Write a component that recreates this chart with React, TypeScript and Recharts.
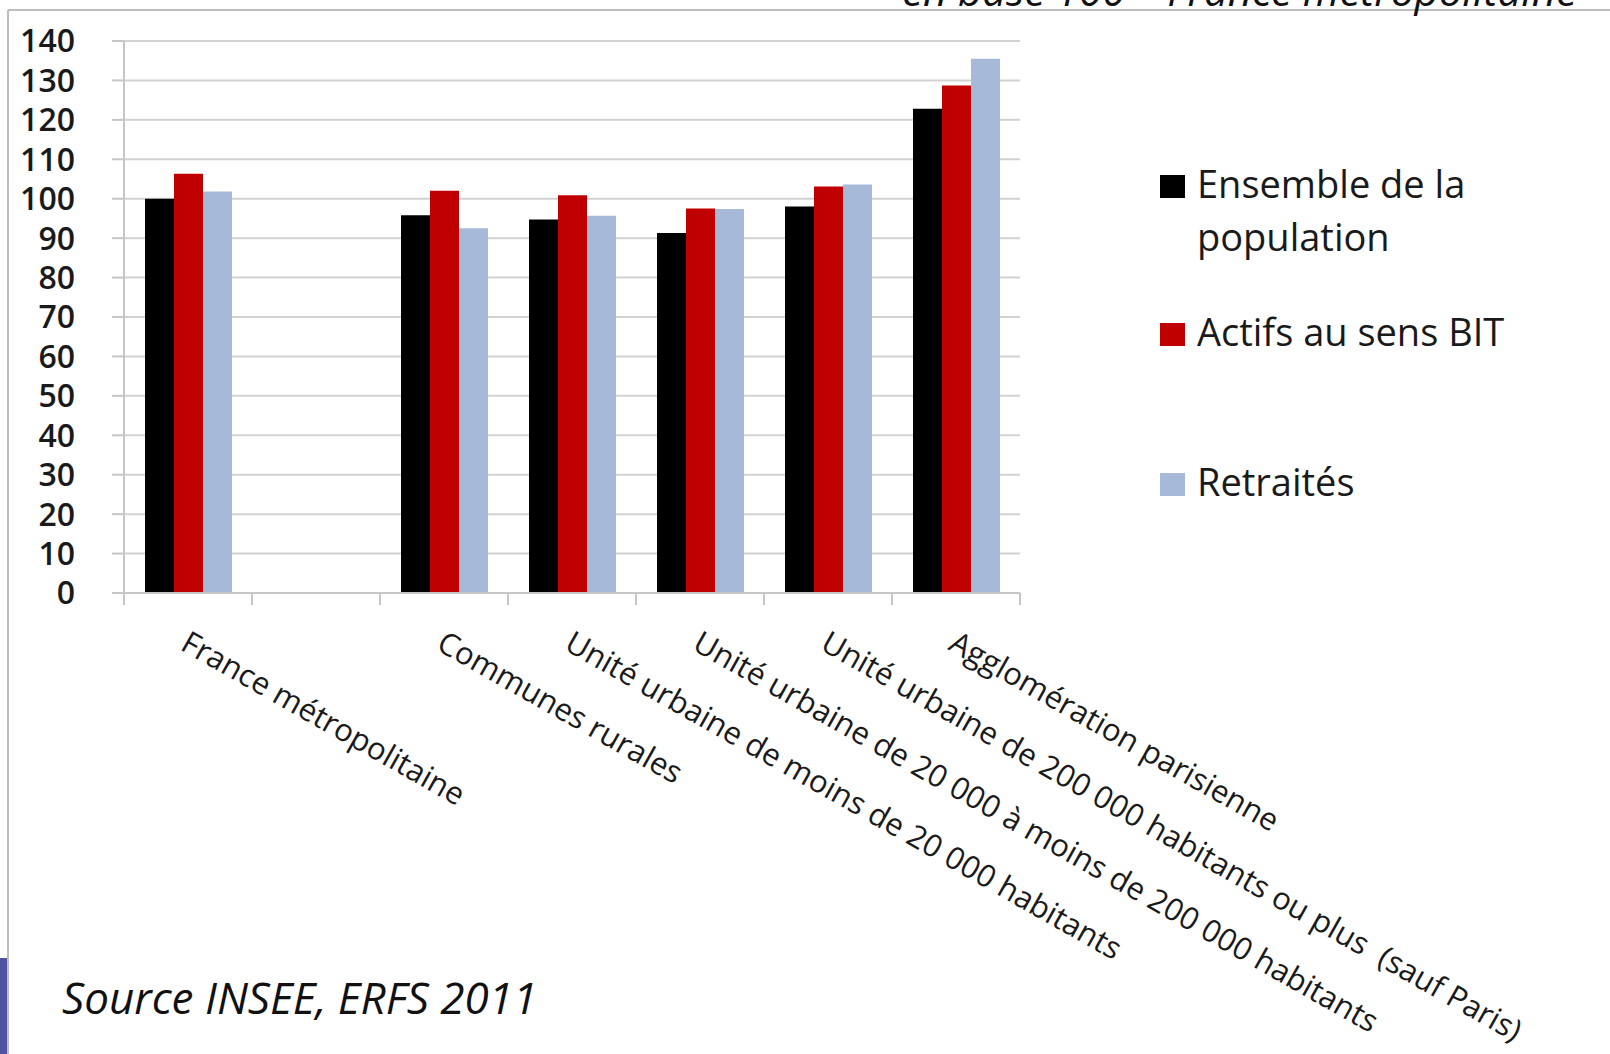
import React from "react";
import { BarChart, Bar, XAxis, YAxis, CartesianGrid, Legend } from "recharts";

// categories along the x axis (the second slot is an empty gap in the original)
const categories = [
  "France métropolitaine",
  "",
  "Communes rurales",
  "Unité urbaine de moins de 20 000 habitants",
  "Unité urbaine de 20 000 à moins de 200 000 habitants",
  "Unité urbaine de 200 000 habitants ou plus  (sauf Paris)",
  "Agglomération parisienne",
];

const ensemble = [100, null, 95.8, 94.7, 91.3, 98.0, 122.8];
const actifs = [106.3, null, 102.0, 100.9, 97.5, 103.1, 128.7];
const retraites = [101.8, null, 92.5, 95.7, 97.4, 103.6, 135.5];

const yTicks = [0, 10, 20, 30, 40, 50, 60, 70, 80, 90, 100, 110, 120, 130, 140];

const seriesNames = ["Ensemble de la population", "Actifs au sens BIT", "Retraités"];

const data = categories.map((name, i) => ({
  key: name === "" ? " " : name,
  ensemble: ensemble[i],
  actifs: actifs[i],
  retraites: retraites[i],
}));

const FONT = "'Open Sans', 'Noto Sans', sans-serif";
const AXIS_GREY = "#c6c6c6";
const legendGaps = [0, 42, 97];

function CategoryTick(props: any) {
  const { x, y, payload, index } = props;
  const half = payload && payload.offset ? payload.offset : 64;
  const label = payload.value === " " ? "" : payload.value;
  const last = index === categories.length - 1;
  return (
    <g>
      <line x1={x - half} x2={x - half} y1={y} y2={y + 12} stroke={AXIS_GREY} strokeWidth={2} />
      {last && (
        <line x1={x + half} x2={x + half} y1={y} y2={y + 12} stroke={AXIS_GREY} strokeWidth={2} />
      )}
      {label && (
        <text
          transform={`translate(${x - 9},${y + 56}) rotate(29.5)`}
          textAnchor="start"
          fontFamily={FONT}
          fontSize={31}
          fill="#1a1a1a"
          style={{ whiteSpace: "pre" }}
        >
          {label}
        </text>
      )}
    </g>
  );
}

function LegendBox({ payload }: any) {
  // keep the series order (recharts sorts legend items by name)
  const items = [...(payload || [])].sort(
    (a: any, b: any) => seriesNames.indexOf(a.value) - seriesNames.indexOf(b.value)
  );
  return (
    <div style={{ fontFamily: FONT, fontSize: 38, color: "#1a1a1a", lineHeight: "53px" }}>
      {items.map((p: any, i: number) => (
        <div key={p.value} style={{ display: "flex", alignItems: "flex-start", marginTop: legendGaps[i] }}>
          <span
            style={{
              width: 25,
              height: 23,
              background: p.color,
              marginTop: 18,
              marginRight: 12,
              flex: "none",
            }}
          />
          <span style={{ width: 330 }}>{p.value}</span>
        </div>
      ))}
    </div>
  );
}

export default function App() {
  return (
    <div
      style={{
        position: "absolute",
        left: 0,
        top: 0,
        width: 1610,
        height: 1054,
        background: "#fff",
        overflow: "hidden",
      }}
    >
      <BarChart
        width={1610}
        height={1054}
        data={data}
        margin={{ top: 41, right: 590, bottom: 401, left: 0 }}
        barCategoryGap={21}
        barGap={0}
      >
        <CartesianGrid vertical={false} stroke="#d2d2d2" strokeWidth={2} />
        <XAxis
          dataKey="key"
          height={60}
          interval={0}
          tickLine={false}
          tickSize={0}
          tickMargin={0}
          axisLine={{ stroke: AXIS_GREY, strokeWidth: 2 }}
          tick={<CategoryTick />}
        />
        <YAxis
          width={124}
          domain={[0, 140]}
          ticks={yTicks}
          interval={0}
          tickSize={12}
          tickMargin={37}
          axisLine={{ stroke: AXIS_GREY, strokeWidth: 2 }}
          tickLine={{ stroke: AXIS_GREY, strokeWidth: 2 }}
          tick={{ fontFamily: FONT, fontSize: 32, fontWeight: 600, fill: "#1a1a1a" }}
        />
        <Legend
          layout="vertical"
          align="center"
          verticalAlign="middle"
          content={<LegendBox />}
          wrapperStyle={{ position: "absolute", left: 1160, top: 157, width: 440, height: "auto" }}
        />
        <Bar dataKey="ensemble" name={seriesNames[0]} fill="#000000" isAnimationActive={false} />
        <Bar dataKey="actifs" name={seriesNames[1]} fill="#c00000" isAnimationActive={false} />
        <Bar dataKey="retraites" name={seriesNames[2]} fill="#a7b9d9" isAnimationActive={false} />
      </BarChart>

      <svg
        width={1610}
        height={1054}
        style={{ position: "absolute", left: 0, top: 0, pointerEvents: "none" }}
      >
        <line x1={8} x2={1610} y1={10} y2={10} stroke="#bdbdbd" strokeWidth={2} />
        <line x1={8} x2={8} y1={10} y2={1054} stroke="#bdbdbd" strokeWidth={2} />
        <rect x={0} y={958} width={7} height={96} fill="#5054a0" />
        <text x={902} y={6} fontFamily={FONT} fontStyle="italic" fontSize={42} fill="#111">
          en base 100 – France métropolitaine
        </text>
        <text x={62} y={1014} fontFamily={FONT} fontStyle="italic" fontSize={44} fill="#111">
          Source INSEE, ERFS 2011
        </text>
      </svg>
    </div>
  );
}
